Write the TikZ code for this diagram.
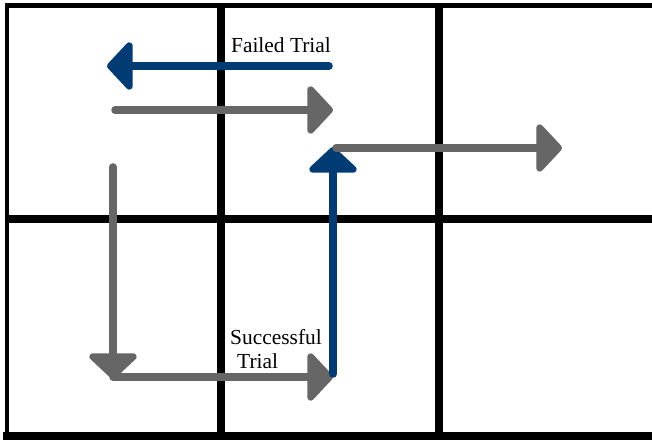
\documentclass[tikz,border=0pt]{standalone}
\usepackage{fontspec}
\setmainfont{Liberation Serif}
\usetikzlibrary{arrows.meta}
\definecolor{trialblue}{RGB}{0,59,115}
\definecolor{trialgray}{RGB}{102,102,102}
\begin{document}
\begin{tikzpicture}
[x=1bp,y=-1bp,
  outerline/.style={line width=4.5bp,black,line cap=rect},%
  innerline/.style={line width=7.5bp,black},%
  movedecorate/.style={line width=7.5bp,line cap=round,
    -{Triangle[length=27bp,width=56bp,round]}},%
  labeldecorate/.style={font=\fontsize{21.5}{24}\selectfont,inner sep=0pt}]
\useasboundingbox (0,0) rectangle (652,440);
\clip (0,0) rectangle (652,440);
%% grid of cells
\draw[outerline] (7,5.3) -- (660,5.3);
\draw[outerline] (7,5.3) -- (7,436);
\draw[innerline] (3,436) -- (660,436);
\foreach \x in {221,439} {
  \draw[innerline] (\x,5) -- (\x,436);
}
\draw[innerline] (7,219) -- (660,219);
%% points of the moves
\foreach \pointname/\x/\y in {fail0/329/66, fail1/107/66, move0/115/110,
  move1/333/110, down0/113/167, down1/113/379, over0/113/377,
  over1/333/377, up0/333/374, up1/333/147, exit0/336/148, exit1/562/148} {
  \coordinate (\pointname) at (\x,\y);
}
%% moves
\foreach \startnode/\endnode/\tone in {fail0/fail1/trialblue,
  move0/move1/trialgray, down0/down1/trialgray, over0/over1/trialgray,
  up0/up1/trialblue, exit0/exit1/trialgray} {
  \draw[movedecorate,\tone] (\startnode) -- (\endnode);
}
%% labels
\node (failed) at (281,45) [labeldecorate] {Failed Trial};
\node (success) at (276,349) [labeldecorate,align=left]
  {Successful\\\hspace*{7bp}Trial};
\end{tikzpicture}
\end{document}
